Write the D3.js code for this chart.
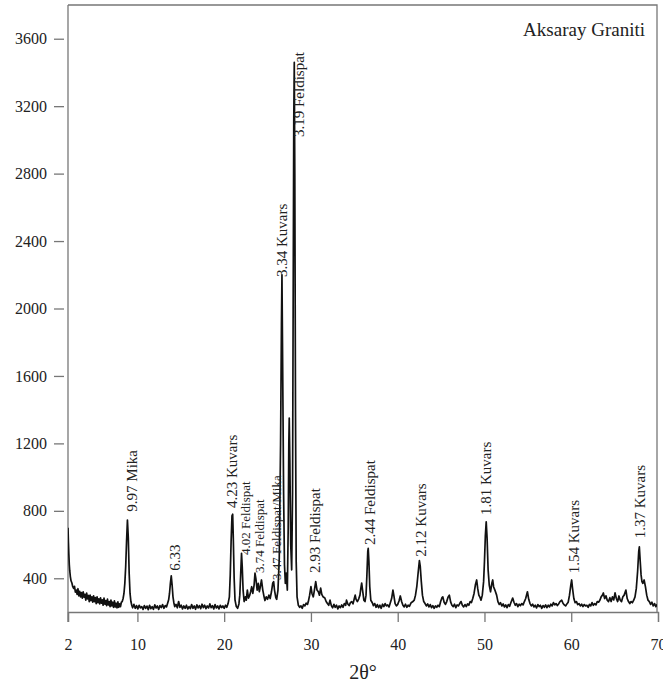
<html>
<head>
<meta charset="utf-8">
<script src="https://d3js.org/d3.v7.min.js"></script>
<style>
  body { margin: 0; background: #fff; }
  text { font-family: 'Liberation Serif', 'Times New Roman', serif; fill: #222; }
  .axis path, .axis line { stroke: #777; stroke-width: 1.3; }
</style>
</head>
<body>
<svg width="663" height="682"></svg>
<script>
// tick values
const xTicks = [2, 10, 20, 30, 40, 50, 60, 70];
const yTicks = [400, 800, 1200, 1600, 2000, 2400, 2800, 3200, 3600];

// XRD pattern: [2theta, counts]
const pattern = [
  [2.00,700],[2.05,610],[2.10,540],[2.15,480],[2.20,445],[2.27,410],[2.35,385],[2.45,372],[2.55,350],[2.65,340],
  [2.75,352],[2.85,318],[2.95,330],[3.05,305],[3.15,338],[3.25,296],[3.35,322],[3.45,290],[3.55,315],[3.65,282],
  [3.75,320],[3.85,288],[3.95,305],[4.05,270],[4.15,312],[4.25,278],[4.35,298],[4.45,262],[4.55,300],[4.65,268],
  [4.75,290],[4.85,258],[4.95,296],[5.05,262],[5.15,285],[5.25,250],[5.35,290],[5.45,256],[5.55,278],[5.65,248],
  [5.75,284],[5.85,252],[5.95,272],[6.05,240],[6.15,282],[6.25,246],[6.35,268],[6.45,238],[6.55,276],[6.65,242],
  [6.75,262],[6.85,232],[6.95,270],[7.05,236],[7.15,258],[7.25,228],[7.35,266],[7.45,230],[7.55,252],[7.65,225],
  [7.75,260],[7.85,228],[7.95,248],[8.05,232],[8.15,258],[8.25,262],[8.35,280],[8.45,310],[8.55,370],[8.65,470],
  [8.75,620],[8.85,745],[8.95,640],[9.05,430],[9.15,310],[9.25,262],[9.35,240],[9.45,225],[9.60,245],[9.75,222],
  [9.90,238],[10.05,218],[10.20,240],[10.35,225],[10.50,232],[10.65,215],[10.80,238],[10.95,222],[11.10,235],[11.25,214],
  [11.40,240],[11.55,220],[11.70,232],[11.85,216],[12.00,242],[12.15,224],[12.30,236],[12.45,215],[12.60,238],[12.75,226],
  [12.90,244],[13.05,222],[13.20,238],[13.35,230],[13.50,255],[13.60,272],[13.70,310],[13.80,370],[13.90,415],[14.00,360],
  [14.10,290],[14.20,255],[14.30,232],[14.45,245],[14.60,225],[14.75,262],[14.90,228],[15.05,240],[15.20,218],[15.35,236],
  [15.50,222],[15.65,240],[15.80,218],[15.95,232],[16.10,220],[16.25,244],[16.40,222],[16.55,236],[16.70,216],[16.85,242],
  [17.00,224],[17.15,238],[17.30,220],[17.45,246],[17.60,226],[17.75,240],[17.90,220],[18.05,236],[18.20,224],[18.35,248],
  [18.50,226],[18.65,238],[18.80,218],[18.95,244],[19.10,224],[19.25,236],[19.40,218],[19.55,240],[19.70,226],[19.85,236],
  [20.00,222],[20.15,240],[20.30,228],[20.45,250],[20.60,290],[20.70,420],[20.80,620],[20.90,770],[20.98,780],[21.05,640],
  [21.15,400],[21.25,270],[21.40,232],[21.55,222],[21.70,248],[21.80,300],[21.90,420],[22.00,548],[22.08,470],[22.18,330],
  [22.30,262],[22.45,290],[22.55,270],[22.67,330],[22.80,282],[22.95,300],[23.05,320],[23.17,350],[23.30,310],[23.45,360],
  [23.55,430],[23.65,400],[23.80,330],[23.93,370],[24.05,320],[24.15,345],[24.30,390],[24.45,330],[24.60,290],[24.70,268],
  [24.85,290],[25.00,275],[25.15,300],[25.30,280],[25.45,320],[25.60,372],[25.70,380],[25.80,330],[25.95,285],[26.05,275],
  [26.20,330],[26.35,520],[26.50,1200],[26.60,1900],[26.66,2200],[26.72,1800],[26.85,900],[26.95,480],[27.05,370],[27.15,430],
  [27.28,330],[27.38,700],[27.45,1200],[27.50,1350],[27.57,1100],[27.67,600],[27.78,450],[27.88,900],[27.95,2000],[28.02,3100],
  [28.08,3460],[28.14,2800],[28.22,1400],[28.30,500],[28.40,290],[28.55,240],[28.70,228],[28.85,236],[29.00,222],[29.15,244],
  [29.30,236],[29.45,252],[29.60,245],[29.70,262],[29.85,300],[30.00,350],[30.12,310],[30.27,290],[30.40,330],[30.55,380],
  [30.70,330],[30.85,320],[30.98,300],[31.12,342],[31.25,305],[31.40,290],[31.60,283],[31.75,262],[31.90,250],[32.05,240],
  [32.20,270],[32.35,238],[32.50,225],[32.65,245],[32.80,228],[32.95,240],[33.10,218],[33.25,236],[33.40,226],[33.55,242],
  [33.70,228],[33.85,250],[34.00,240],[34.10,270],[34.25,248],[34.40,238],[34.55,255],[34.70,262],[34.85,248],[35.00,280],
  [35.10,300],[35.20,275],[35.35,262],[35.50,277],[35.65,300],[35.75,340],[35.85,372],[35.95,330],[36.10,270],[36.23,262],
  [36.35,300],[36.45,420],[36.55,560],[36.60,578],[36.68,500],[36.78,350],[36.90,270],[37.07,255],[37.20,238],[37.35,250],
  [37.50,228],[37.65,244],[37.80,226],[37.95,240],[38.10,222],[38.25,246],[38.40,232],[38.55,250],[38.70,236],[38.85,242],
  [39.00,230],[39.15,255],[39.30,280],[39.45,330],[39.55,300],[39.70,250],[39.85,236],[40.00,245],[40.15,265],[40.30,295],
  [40.45,262],[40.60,240],[40.75,230],[40.90,246],[41.05,228],[41.20,240],[41.35,234],[41.55,255],[41.75,262],[41.90,270],
  [42.05,300],[42.20,350],[42.35,430],[42.50,505],[42.60,470],[42.72,380],[42.85,300],[43.00,262],[43.15,250],[43.30,236],
  [43.45,248],[43.60,230],[43.75,244],[43.90,226],[44.05,238],[44.20,222],[44.35,236],[44.50,228],[44.65,240],[44.80,232],
  [44.95,262],[45.10,285],[45.20,290],[45.35,258],[45.50,245],[45.65,262],[45.80,288],[45.95,300],[46.10,260],[46.25,240],
  [46.40,232],[46.55,246],[46.70,226],[46.85,242],[47.00,236],[47.15,250],[47.30,262],[47.45,240],[47.60,230],[47.75,244],
  [47.90,232],[48.05,248],[48.20,240],[48.35,262],[48.50,256],[48.65,280],[48.80,310],[48.95,360],[49.10,390],[49.22,340],
  [49.35,300],[49.50,285],[49.60,270],[49.75,300],[49.90,380],[50.00,500],[50.10,650],[50.20,735],[50.30,640],[50.42,450],
  [50.55,360],[50.70,320],[50.85,370],[50.95,390],[51.05,350],[51.20,330],[51.40,300],[51.55,262],[51.70,245],[51.85,255],
  [52.00,236],[52.15,248],[52.30,230],[52.45,242],[52.60,226],[52.75,244],[52.90,234],[53.05,256],[53.25,283],[53.40,258],
  [53.55,240],[53.70,250],[53.85,232],[54.00,246],[54.15,238],[54.30,250],[54.45,242],[54.60,262],[54.75,280],[54.95,320],
  [55.10,275],[55.25,250],[55.40,236],[55.55,246],[55.70,230],[55.85,240],[56.00,224],[56.15,244],[56.30,232],[56.45,240],
  [56.60,222],[56.75,238],[56.90,228],[57.05,242],[57.20,226],[57.35,240],[57.50,230],[57.65,246],[57.80,236],[57.95,256],
  [58.10,242],[58.25,250],[58.40,238],[58.55,248],[58.70,262],[58.90,270],[59.05,252],[59.20,242],[59.35,236],[59.50,248],
  [59.65,258],[59.80,300],[59.95,360],[60.05,390],[60.15,340],[60.30,280],[60.45,255],[60.60,262],[60.75,244],[60.90,250],
  [61.05,236],[61.20,246],[61.35,232],[61.50,244],[61.65,236],[61.80,240],[61.95,228],[62.10,245],[62.25,236],[62.40,256],
  [62.55,240],[62.70,250],[62.85,242],[63.00,262],[63.15,258],[63.30,270],[63.45,290],[63.60,300],[63.70,313],[63.85,280],
  [64.00,296],[64.15,270],[64.30,262],[64.45,285],[64.60,262],[64.75,290],[64.90,272],[65.05,313],[65.20,280],[65.35,262],
  [65.50,295],[65.65,270],[65.80,262],[65.95,290],[66.10,300],[66.30,330],[66.45,280],[66.60,262],[66.75,250],[66.90,262],
  [67.05,255],[67.20,270],[67.35,290],[67.50,340],[67.65,440],[67.78,560],[67.85,587],[67.95,500],[68.05,420],[68.15,380],
  [68.25,370],[68.40,390],[68.55,350],[68.70,300],[68.85,270],[69.00,262],[69.15,245],[69.30,258],[69.45,236],[69.60,250],
  [69.75,232],[69.90,244],[70.00,230]
];

// peak annotations: [text, 2theta of label, counts at label start]
const peakLabels = [
  ["9.97 Mika", 9.34, 795],
  ["6.33", 14.25, 445],
  ["4.23 Kuvars", 20.87, 817],
  ["3.34 Kuvars", 26.63, 2187],
  ["3.19 Feldispat", 28.54, 3017],
  ["2.93 Feldispat", 30.47, 431],
  ["2.44 Feldispat", 36.81, 597],
  ["2.12 Kuvars", 42.65, 528],
  ["1.81 Kuvars", 50.18, 775],
  ["1.54 Kuvars", 60.24, 430],
  ["1.37 Kuvars", 67.93, 637]
];
const smallPeakLabels = [
  ["4.02 Feldispat", 22.48, 538],
  ["3.74 Feldispat", 24.01, 431],
  ["3.47 Feldispat/Mika", 25.97, 390]
];

const svg = d3.select('svg');
const plotL = 68, plotR = 657, plotT = 5, plotB = 612;

const x = d3.scaleLinear().domain([2, 70]).range([plotL, 658]);
const y = d3.scaleLinear().domain([200, 3800]).range([plotB, plotT]);

// frame (top and right edges)
svg.append('path')
  .attr('d', `M${plotL},${plotT}H${plotR}V${plotB}`)
  .attr('fill', 'none').attr('stroke', '#777').attr('stroke-width', 1.3);

// y axis
const gy = svg.append('g').attr('class', 'axis')
  .attr('transform', `translate(${plotL},0)`)
  .call(d3.axisLeft(y).tickValues(yTicks).tickFormat(d3.format('d'))
    .tickSizeOuter(0).tickSize(0).tickPadding(21));
gy.selectAll('.tick line').attr('x1', -14).attr('x2', -4);
gy.selectAll('.tick text').style('font-size', '16px').attr('fill', '#222');
gy.select('.domain').attr('d', `M0,${plotT}V${plotB + 10}`);

// x axis
const gx = svg.append('g').attr('class', 'axis')
  .attr('transform', `translate(0,${plotB})`)
  .call(d3.axisBottom(x).tickValues(xTicks).tickSizeOuter(0).tickSize(10).tickPadding(17));
gx.selectAll('.tick text').style('font-size', '16px').attr('fill', '#222');

svg.append('text')
  .attr('x', 363).attr('y', 679)
  .attr('text-anchor', 'middle')
  .style('font-size', '20px')
  .text('2θ°');

// pattern line
svg.append('clipPath').attr('id', 'plot')
  .append('rect').attr('x', plotL).attr('y', plotT).attr('width', plotR - plotL).attr('height', plotB - plotT);

const line = d3.line().x(d => x(d[0])).y(d => y(d[1]));
svg.append('path')
  .datum(pattern)
  .attr('clip-path', 'url(#plot)')
  .attr('d', line)
  .attr('fill', 'none')
  .attr('stroke', '#111')
  .attr('stroke-width', 1.7)
  .attr('stroke-linejoin', 'round');

// annotations
function addLabels(list, size) {
  svg.selectAll(null).data(list).enter().append('text')
    .attr('transform', d => `translate(${x(d[1])},${y(d[2])}) rotate(-90)`)
    .attr('dy', '0.35em')
    .style('font-size', size)
    .text(d => d[0]);
}
addLabels(peakLabels, '15px');
addLabels(smallPeakLabels, '13px');

svg.append('text')
  .attr('x', 645).attr('y', 36)
  .attr('text-anchor', 'end')
  .style('font-size', '19px')
  .text('Aksaray Graniti');
</script>
</body>
</html>
